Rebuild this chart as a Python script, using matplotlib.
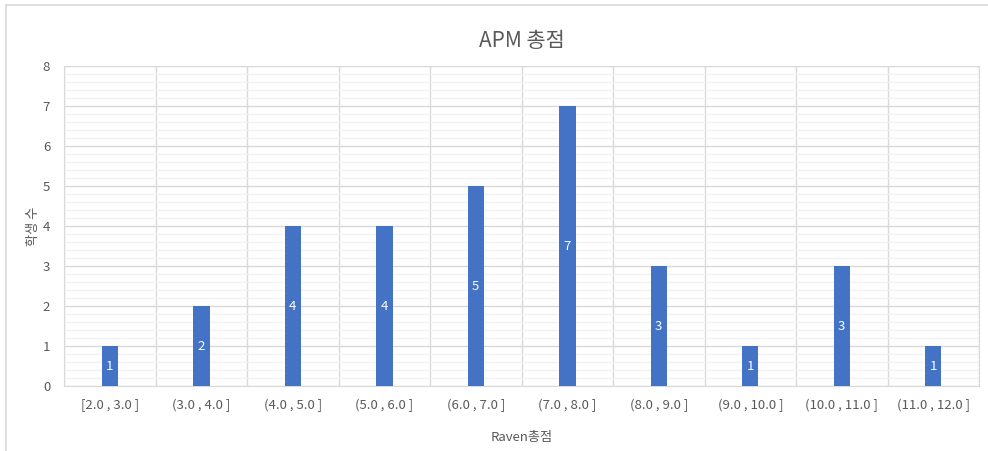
import matplotlib.pyplot as plt
from matplotlib.lines import Line2D
from matplotlib.ticker import MultipleLocator

plt.rcParams['font.family'] = ['Noto Sans CJK KR', 'DejaVu Sans']

# score bins and number of students in each
bins = ['[2.0 , 3.0 ]', '(3.0 , 4.0 ]', '(4.0 , 5.0 ]', '(5.0 , 6.0 ]', '(6.0 , 7.0 ]',
        '(7.0 , 8.0 ]', '(8.0 , 9.0 ]', '(9.0 , 10.0 ]', '(10.0 , 11.0 ]', '(11.0 , 12.0 ]']
counts = [1, 2, 4, 4, 5, 7, 3, 1, 3, 1]

fig = plt.figure(figsize=(9.88, 4.51), dpi=100)
ax = fig.add_axes([0.0648, 0.1441, 0.9261, 0.7095])

x = range(len(bins))
bars = ax.bar(x, counts, width=0.18, color='#4472C4', zorder=3)
for b, c in zip(bars, counts):
    ax.text(b.get_x() + b.get_width() / 2, c / 2, str(c), ha='center', va='center',
            color='white', fontsize=9.5, zorder=4)

ax.set_xlim(-0.5, len(bins) - 0.5)
ax.set_ylim(0, 8)
ax.yaxis.set_major_locator(MultipleLocator(1))
ax.yaxis.set_minor_locator(MultipleLocator(0.2))
ax.set_xticks(list(x))
ax.set_xticklabels(bins)
ax.set_xticks([i - 0.5 for i in range(len(bins) + 1)], minor=True)

ax.grid(which='major', axis='y', color='#D9D9D9', linewidth=1, zorder=1)
ax.grid(which='minor', axis='y', color='#F2F2F2', linewidth=1, zorder=0)
ax.grid(which='minor', axis='x', color='#D9D9D9', linewidth=1, zorder=1)
ax.grid(which='major', axis='x', visible=False)

for s in ax.spines.values():
    s.set_color('#D9D9D9')
ax.tick_params(which='both', length=0, colors='#595959', labelsize=9.5)
ax.tick_params(axis='x', pad=9)
ax.tick_params(axis='y', pad=10)

ax.set_title('APM 총점', fontsize=15, color='#595959', pad=14)
ax.set_xlabel('Raven총점', fontsize=9.5, color='#595959', labelpad=14)
ax.set_ylabel('학생 수', fontsize=9.5, color='#595959')
ax.yaxis.set_label_coords(-0.026, 0.5)

# chart frame (top and left edges)
fig.add_artist(Line2D([6 / 988, 1], [1 - 5 / 451] * 2, color='#D9D9D9', lw=1.2))
fig.add_artist(Line2D([6 / 988] * 2, [0, 1 - 5 / 451], color='#D9D9D9', lw=1.2))

fig.savefig('out.png', dpi=100)
